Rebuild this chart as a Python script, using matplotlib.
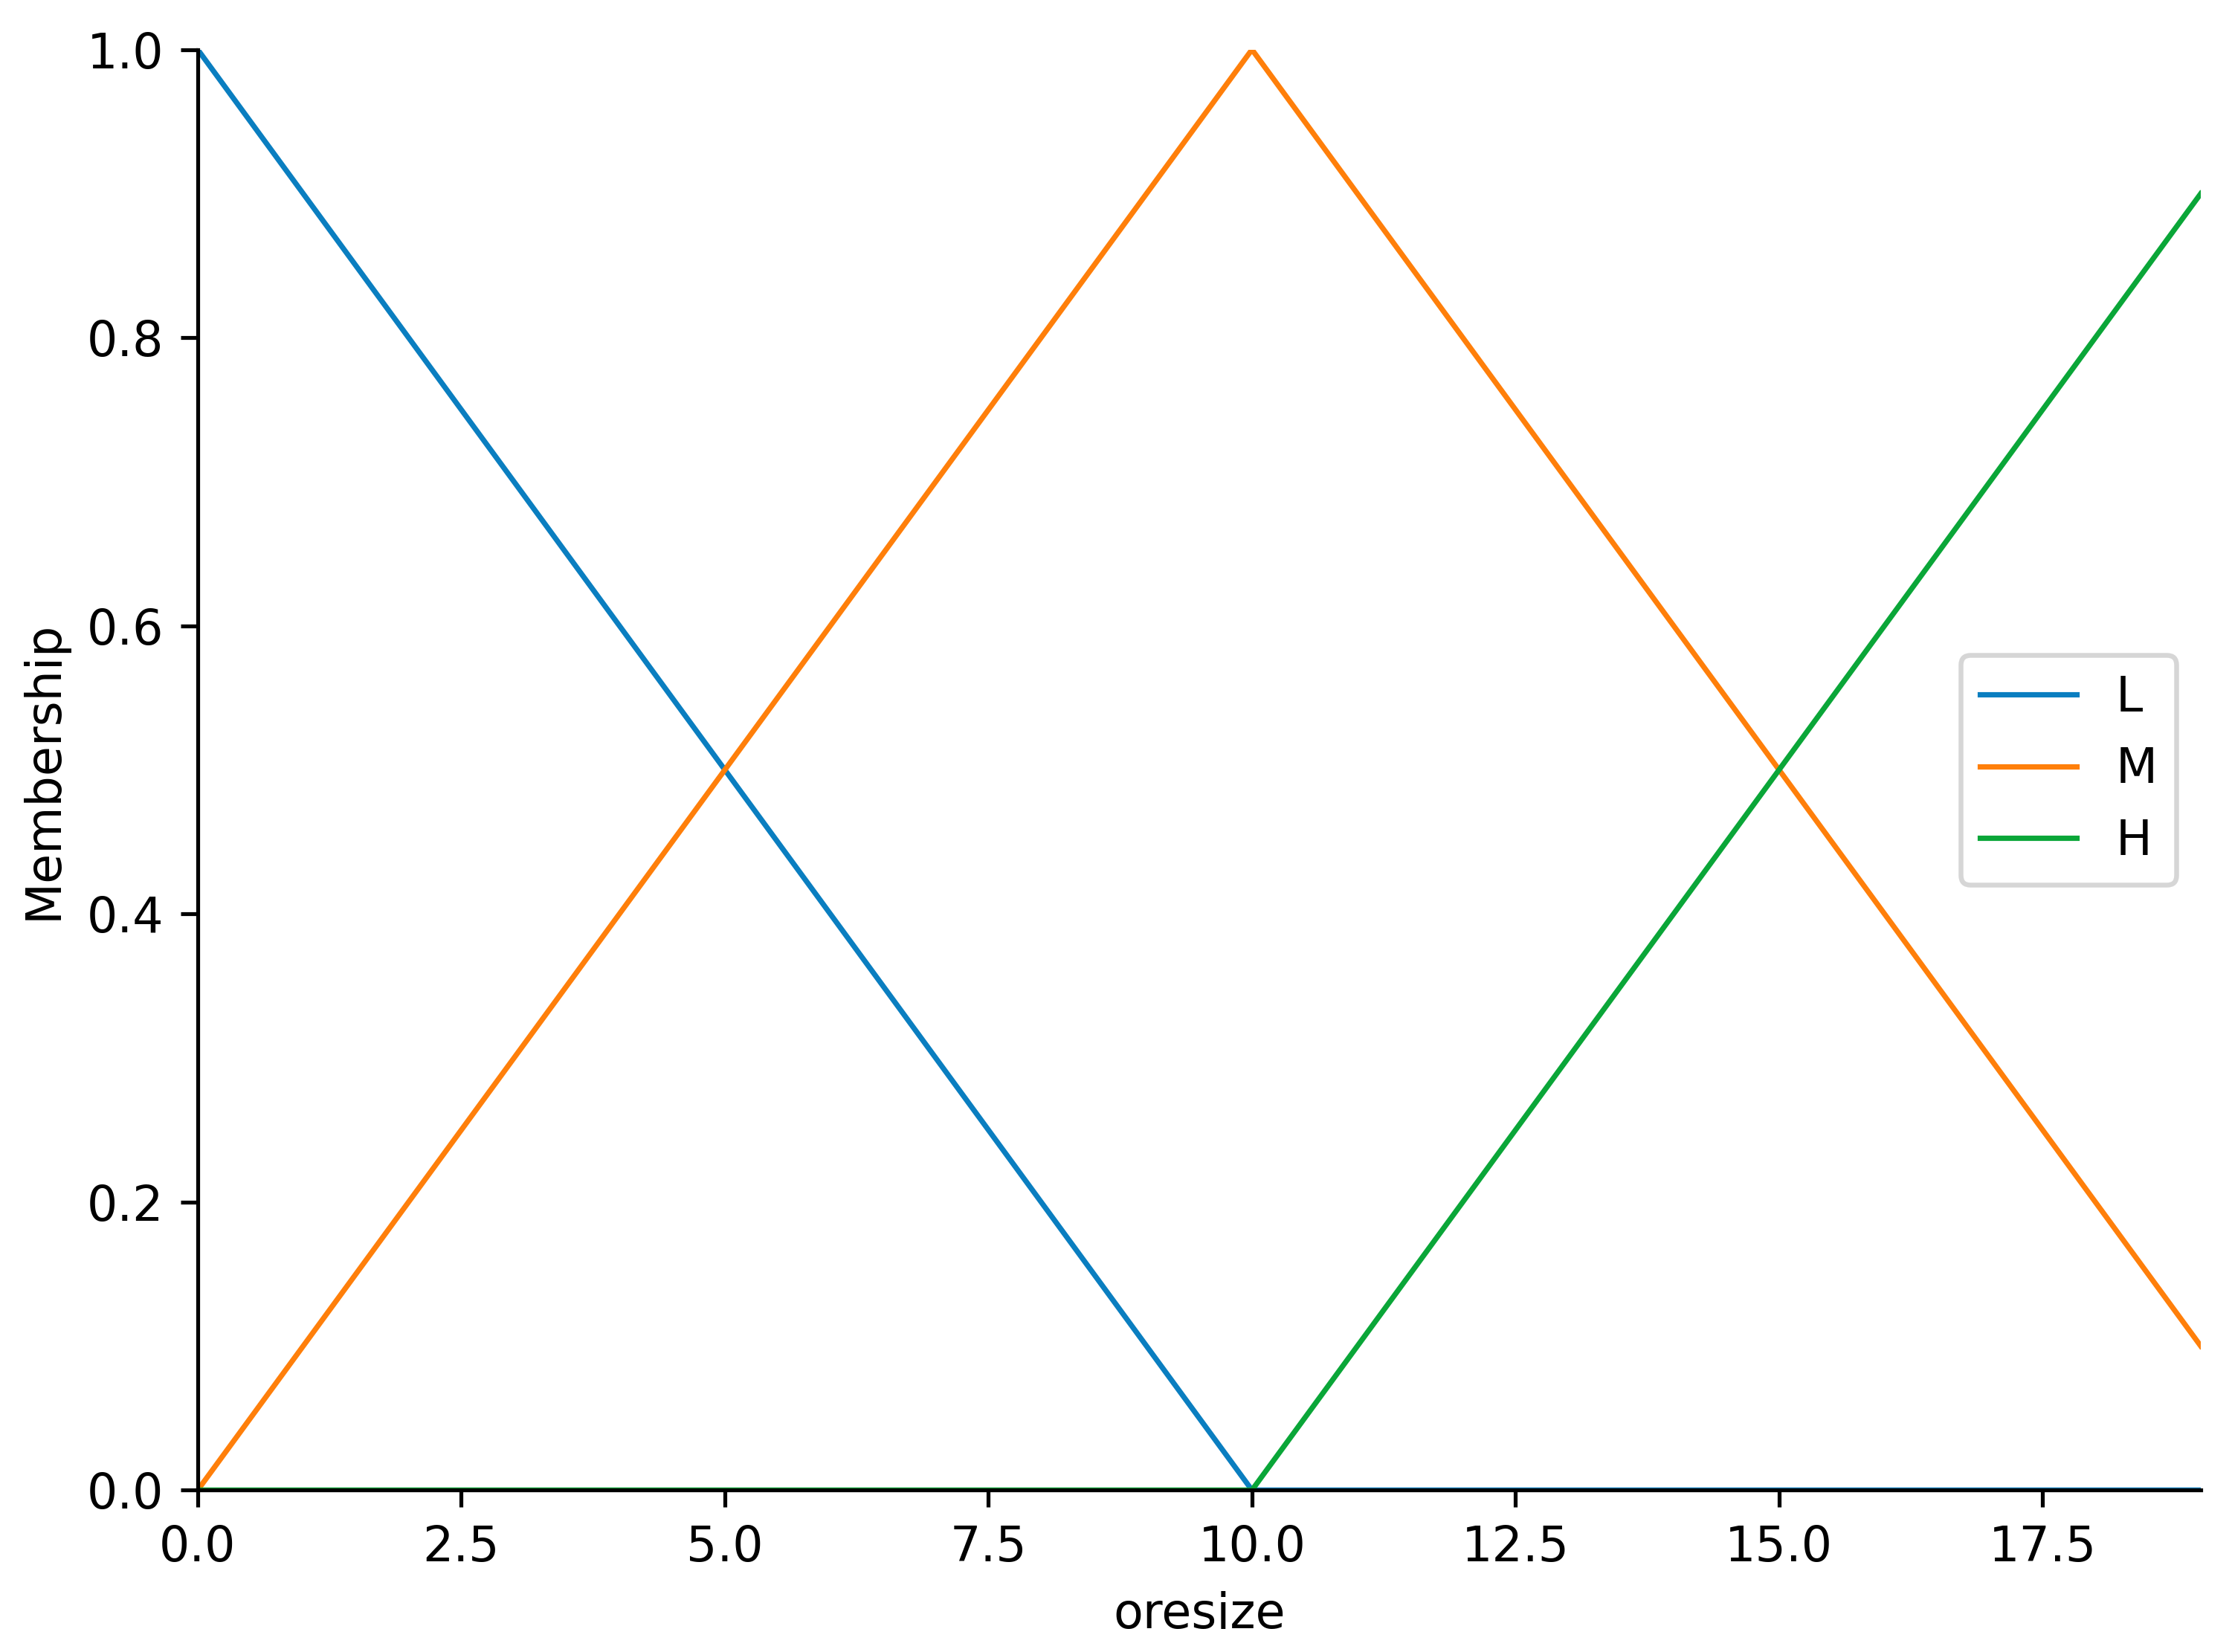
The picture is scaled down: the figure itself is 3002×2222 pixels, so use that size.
import matplotlib
matplotlib.use("Agg")
import matplotlib.pyplot as plt

x = [0, 1, 2, 3, 4, 5, 6, 7, 8, 9, 10, 11, 12, 13, 14, 15, 16, 17, 18, 19]
L = [1.0, 0.9, 0.8, 0.7, 0.6, 0.5, 0.4, 0.3, 0.2, 0.1, 0.0, 0.0, 0.0, 0.0, 0.0, 0.0, 0.0, 0.0, 0.0, 0.0]
M = [0.0, 0.1, 0.2, 0.3, 0.4, 0.5, 0.6, 0.7, 0.8, 0.9, 1.0, 0.9, 0.8, 0.7, 0.6, 0.5, 0.4, 0.3, 0.2, 0.1]
H = [0.0, 0.0, 0.0, 0.0, 0.0, 0.0, 0.0, 0.0, 0.0, 0.0, 0.0, 0.1, 0.2, 0.3, 0.4, 0.5, 0.6, 0.7, 0.8, 0.9]
labels = ["L", "M", "H"]
colors = ["#0a7ec0", "#ff7f0a", "#0aa638"]
xlabel = "oresize"
ylabel = "Membership"

DPI = 469
fig = plt.figure(figsize=(3002 / DPI, 2222 / DPI), dpi=DPI)
ax = fig.add_axes([0.0886, 0.098, 0.8974, 0.872])

for series, lab, c in zip([L, M, H], labels, colors):
    ax.plot(x, series, linewidth=1.1, label=lab, color=c)

ax.set_xlim(0, 19)
ax.set_ylim(0, 1.0)
ax.set_xlabel(xlabel)
ax.set_ylabel(ylabel)
ax.spines["top"].set_visible(False)
ax.spines["right"].set_visible(False)
ax.legend(loc="center right")

fig.savefig("out.png", dpi=DPI)
